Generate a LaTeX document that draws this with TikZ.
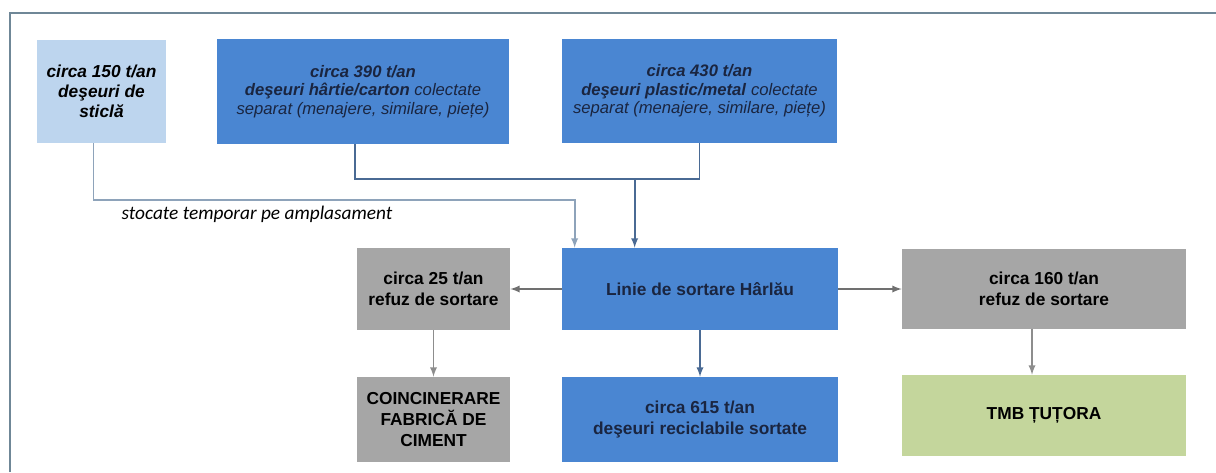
\documentclass[tikz,border=0pt]{standalone}
\usepackage{fontspec}
\setmainfont{Liberation Sans}
\newfontfamily\notefont{Carlito}
\usetikzlibrary{arrows}

\definecolor{lightblue}{HTML}{BDD5EE}
\definecolor{midblue}{HTML}{4A86D2}
\definecolor{boxgray}{HTML}{A6A6A6}
\definecolor{boxgreen}{HTML}{C4D69C}
\definecolor{navy}{HTML}{1A2540}
\definecolor{framecol}{HTML}{6F8797}
\definecolor{flowpale}{HTML}{8EA3BA}
\definecolor{flowblue}{HTML}{4A6A94}
\definecolor{flowgray}{HTML}{707070}

\tikzset{
  box/.style={rectangle,inner sep=0pt,align=center,font=\fontsize{13}{16}\selectfont},
  topbox/.style={box,font=\fontsize{12.5}{14}\selectfont},
  flow/.style={line width=1.4pt,->}
}

\begin{document}
\begin{tikzpicture}[>=latex,x=0.75pt,y=-0.75pt]
        \useasboundingbox (0,0) rectangle (1216,472);
        \draw[framecol,line width=1.3pt] (10,472) -- (10,13) -- (1216,13);
        \path
        % top row
        +(101.5,91.5) node[topbox,font=\fontsize{13}{15}\selectfont,fill=lightblue,minimum width=96.75pt,minimum height=77.25pt,text=black] (sticla)
            {\textbf{\textit{circa 150 t/an}}\\ \textbf{\textit{deşeuri de}}\\ \textbf{\textit{sticlă}}}
        +(363,91.5)   node[topbox,fill=midblue,minimum width=219pt,minimum height=78.75pt,text=navy] (hartie)
            {\textbf{\textit{circa 390 t/an}}\\ \textbf{\textit{deşeuri hârtie/carton}} \textit{colectate}\\ \textit{separat (menajere, similare, piețe)}}
        +(699.5,91)   node[topbox,fill=midblue,minimum width=206.25pt,minimum height=78pt,text=navy] (plastic)
            {\textbf{\textit{circa 430 t/an}}\\ \textbf{\textit{deşeuri plastic/metal}} \textit{colectate}\\ \textit{separat (menajere, similare, piețe)}}
        % middle row
        +(433.5,289)  node[box,fill=boxgray,minimum width=114.75pt,minimum height=61.5pt,text=black] (refuzA)
            {\textbf{circa 25 t/an}\\ \textbf{refuz de sortare}}
        +(700,289)    node[box,fill=midblue,minimum width=207pt,minimum height=61.5pt,text=navy] (linie)
            {\textbf{Linie de sortare Hârlău}}
        +(1044,288.5) node[box,fill=boxgray,minimum width=213pt,minimum height=60pt,text=black] (refuzB)
            {\textbf{circa 160 t/an}\\ \textbf{refuz de sortare}}
        % bottom row
        +(433.5,419.5) node[box,fill=boxgray,minimum width=114.75pt,minimum height=63.75pt,text=black] (coinc)
            {\textbf{COINCINERARE}\\ \textbf{FABRICĂ DE}\\ \textbf{CIMENT}}
        +(700,419.5)  node[box,fill=midblue,minimum width=207pt,minimum height=63.75pt,text=navy] (recicl)
            {\textbf{circa 615 t/an}\\ \textbf{deşeuri reciclabile sortate}}
        +(1044,415.5) node[box,fill=boxgreen,minimum width=213pt,minimum height=60.75pt,text=black] (tmb)
            {\textbf{TMB ȚUȚORA}}
        % note
        +(257,214)    node[font=\notefont\itshape\fontsize{14.5}{16}\selectfont] (stocare) {stocate temporar pe amplasament};

        \coordinate (joinA) at ([xshift=-6pt]hartie.south);
        \draw[flow,flowpale] ([xshift=-6pt]sticla.south) |- ++(0,57) -| ([xshift=-94pt]linie.north);
        \draw[flowblue,line width=1.4pt] (joinA) |- ++(0,35) -| (plastic.south);
        \draw[flow,flowblue] ([xshift=-49pt]linie.north |- 0,179) -- ([xshift=-49pt]linie.north);

        \draw[flow,flowgray] (linie.west) -- (refuzA.east);
        \draw[flow,flowgray] (linie.east) -- (linie.east -| refuzB.west);
        \draw[flow,flowgray!80] (refuzA.south) -- (coinc.north);
        \draw[flow,flowblue] (linie.south) -- (recicl.north);
        \draw[flow,flowgray!80] ([xshift=-9pt]refuzB.south) -- ([xshift=-9pt]tmb.north);
    \end{tikzpicture}
\end{document}
